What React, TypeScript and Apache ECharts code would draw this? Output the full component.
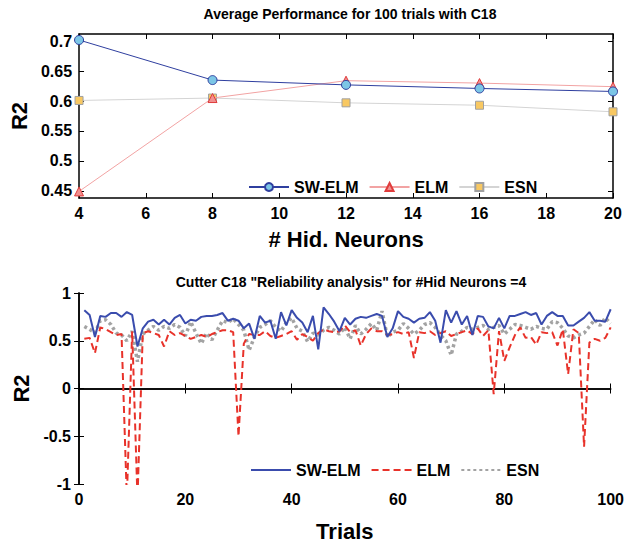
import React, { useEffect, useRef } from "react";
import * as echarts from "echarts";

// ---- Top chart data ----
const hidNeurons = [4, 8, 12, 16, 20];
const avgSwElm = [0.702, 0.635, 0.627, 0.621, 0.616];
const avgElm = [0.449, 0.605, 0.634, 0.63, 0.624];
const avgEsn = [0.601, 0.605, 0.597, 0.593, 0.582];
const topYTicks = [0.45, 0.5, 0.55, 0.6, 0.65, 0.7];

// ---- Bottom chart data (trials 1..100) ----
const trials = [
  1, 2, 3, 4, 5, 6, 7, 8, 9, 10, 11, 12, 13, 14, 15, 16, 17, 18, 19, 20,
  21, 22, 23, 24, 25, 26, 27, 28, 29, 30, 31, 32, 33, 34, 35, 36, 37, 38, 39, 40,
  41, 42, 43, 44, 45, 46, 47, 48, 49, 50, 51, 52, 53, 54, 55, 56, 57, 58, 59, 60,
  61, 62, 63, 64, 65, 66, 67, 68, 69, 70, 71, 72, 73, 74, 75, 76, 77, 78, 79, 80,
  81, 82, 83, 84, 85, 86, 87, 88, 89, 90, 91, 92, 93, 94, 95, 96, 97, 98, 99, 100,
];
const relSwElm = [
  0.82, 0.77, 0.54, 0.76, 0.75, 0.79, 0.79, 0.75, 0.8, 0.77, 0.44, 0.63, 0.7, 0.72, 0.67, 0.72, 0.67, 0.74, 0.77, 0.68,
  0.72, 0.71, 0.75, 0.76, 0.76, 0.77, 0.79, 0.71, 0.73, 0.71, 0.63, 0.68, 0.52, 0.76, 0.69, 0.71, 0.52, 0.8, 0.66, 0.82,
  0.74, 0.69, 0.59, 0.76, 0.41, 0.85, 0.78, 0.7, 0.6, 0.74, 0.67, 0.73, 0.75, 0.74, 0.76, 0.78, 0.76, 0.54, 0.63, 0.81,
  0.75, 0.73, 0.69, 0.73, 0.74, 0.8, 0.71, 0.48, 0.82, 0.69, 0.81, 0.67, 0.76, 0.56, 0.76, 0.75, 0.65, 0.63, 0.74, 0.63,
  0.76, 0.76, 0.78, 0.8, 0.77, 0.79, 0.67, 0.76, 0.8, 0.76, 0.76, 0.66, 0.66, 0.7, 0.74, 0.8, 0.71, 0.71, 0.7, 0.83,
];
const relElm = [
  0.52, 0.53, 0.37, 0.64, 0.62, 0.59, 0.56, 0.57, -1.15, 0.6, -1.15, 0.58, 0.6, 0.58, 0.56, 0.44, 0.6, 0.56, 0.58, 0.55,
  0.52, 0.54, 0.56, 0.54, 0.57, 0.59, 0.61, 0.61, 0.59, -0.5, 0.47, 0.57, 0.56, 0.56, 0.6, 0.55, 0.53, 0.55, 0.57, 0.6,
  0.51, 0.57, 0.54, 0.5, 0.58, 0.62, 0.6, 0.59, 0.6, 0.66, 0.59, 0.61, 0.45, 0.57, 0.63, 0.6, 0.6, 0.56, 0.57, 0.59,
  0.57, 0.59, 0.32, 0.59, 0.58, 0.6, 0.56, 0.58, 0.6, 0.55, 0.57, 0.59, 0.61, 0.57, 0.63, 0.55, 0.61, -0.06, 0.6, 0.29,
  0.43, 0.56, 0.64, 0.53, 0.54, 0.46, 0.59, 0.58, 0.59, 0.45, 0.62, 0.15, 0.62, 0.58, -0.61, 0.48, 0.52, 0.5, 0.53, 0.64,
];
const relEsn = [
  0.65, 0.62, 0.58, 0.71, 0.72, 0.67, 0.58, 0.56, 0.5, 0.6, 0.28, 0.57, 0.61, 0.65, 0.61, 0.65, 0.63, 0.67, 0.64, 0.55,
  0.7, 0.58, 0.47, 0.58, 0.51, 0.61, 0.71, 0.69, 0.73, 0.67, 0.61, 0.4, 0.54, 0.64, 0.67, 0.71, 0.64, 0.6, 0.69, 0.74,
  0.63, 0.6, 0.49, 0.58, 0.56, 0.61, 0.64, 0.61, 0.57, 0.64, 0.52, 0.66, 0.57, 0.62, 0.68, 0.61, 0.81, 0.54, 0.59, 0.61,
  0.68, 0.63, 0.57, 0.61, 0.67, 0.69, 0.64, 0.56, 0.5, 0.35, 0.57, 0.6, 0.64, 0.62, 0.64, 0.66, 0.62, 0.64, 0.66, 0.57,
  0.62, 0.67, 0.66, 0.64, 0.62, 0.65, 0.63, 0.62, 0.7, 0.69, 0.63, 0.55, 0.53, 0.56, 0.58, 0.65, 0.72, 0.66, 0.74, 0.68,
];

const FONT = "'Liberation Sans', Arial, Helvetica, sans-serif";

export default function App() {
  const ref = useRef<HTMLDivElement>(null);

  useEffect(() => {
    if (!ref.current) return;
    const chart = echarts.init(ref.current, null, { renderer: "svg" });

    const axisLine = { show: true, lineStyle: { color: "#000", width: 1.5 } };
    const tickIn = { show: true, inside: true, length: 5, lineStyle: { color: "#000", width: 1 } };
    const lbl = { color: "#000", fontSize: 16, fontWeight: "bold" as const, fontFamily: FONT };
    const nameStyle = { color: "#000", fontSize: 22, fontWeight: "bold" as const, fontFamily: FONT };

    const pair = (xs: number[], ys: number[]) => xs.map((x, i) => [x, ys[i]]);

    const option: any = {
      animation: false,
      backgroundColor: "#fff",
      textStyle: { fontFamily: FONT },
      title: [
        {
          text: "Average Performance for 100 trials with C18",
          left: 345,
          top: 2,
          textAlign: "center",
          textStyle: { fontSize: 14, fontWeight: "bold", color: "#000", fontFamily: FONT },
        },
        {
          text: 'Cutter C18 "Reliability analysis" for #Hid Neurons =4',
          left: 346,
          top: 270,
          textAlign: "center",
          textStyle: { fontSize: 14, fontWeight: "bold", color: "#000", fontFamily: FONT },
        },
      ],
      legend: [
        {
          left: 243,
          top: 174,
          itemWidth: 40,
          itemHeight: 10,
          itemGap: 10,
          selectedMode: false,
          textStyle: { fontSize: 16, fontWeight: "bold", color: "#000", fontFamily: FONT },
          data: ["SW-ELM", "ELM", "ESN"].map((n) => ({ name: n })),
        },
        {
          left: 245,
          top: 457,
          itemWidth: 40,
          itemHeight: 10,
          itemGap: 10,
          selectedMode: false,
          itemStyle: { color: "transparent", borderColor: "transparent", borderWidth: 0, opacity: 0 },
          textStyle: { fontSize: 16, fontWeight: "bold", color: "#000", fontFamily: FONT },
          data: ["SW-ELM ", "ELM ", "ESN "].map((n) => ({ name: n })),
          formatter: (n: string) => n.trim(),
        },
      ],
      grid: [
        { left: 78, top: 34, width: 535, height: 164 },
        { left: 79, top: 293, width: 534, height: 191 },
      ],
      xAxis: [
        {
          type: "value",
          gridIndex: 0,
          min: 4,
          max: 20,
          interval: 2,
          axisLine,
          axisTick: tickIn,
          axisLabel: { ...lbl, margin: 7 },
          splitLine: { show: false },
          name: "# Hid. Neurons",
          nameLocation: "middle",
          nameGap: 30,
          nameTextStyle: nameStyle,
        },
        {
          type: "value",
          gridIndex: 0,
          position: "top",
          min: 4,
          max: 20,
          interval: 2,
          axisLine,
          axisTick: tickIn,
          axisLabel: { show: false },
          splitLine: { show: false },
        },
        {
          type: "value",
          gridIndex: 1,
          min: 0,
          max: 100,
          interval: 20,
          axisLine,
          axisTick: tickIn,
          axisLabel: { ...lbl, margin: 7 },
          splitLine: { show: false },
          name: "Trials",
          nameLocation: "middle",
          nameGap: 36,
          nameTextStyle: nameStyle,
        },
        {
          type: "value",
          gridIndex: 1,
          position: "top",
          min: 0,
          max: 100,
          interval: 20,
          axisLine,
          axisTick: tickIn,
          axisLabel: { show: false },
          splitLine: { show: false },
        },
      ],
      yAxis: [
        {
          type: "value",
          gridIndex: 0,
          min: 0.438,
          max: 0.712,
          axisLine,
          axisTick: { ...tickIn, customValues: topYTicks },
          axisLabel: {
            ...lbl,
            margin: 7,
            customValues: topYTicks,
            formatter: (v: number) => String(Math.round(v * 100) / 100),
          },
          splitLine: { show: false },
          name: "R2",
          nameLocation: "middle",
          nameGap: 44,
          nameTextStyle: nameStyle,
        },
        {
          type: "value",
          gridIndex: 0,
          position: "right",
          min: 0.438,
          max: 0.712,
          axisLine,
          axisTick: { ...tickIn, customValues: topYTicks },
          axisLabel: { show: false },
          splitLine: { show: false },
        },
        {
          type: "value",
          gridIndex: 1,
          min: -1,
          max: 1,
          interval: 0.5,
          axisLine,
          axisTick: tickIn,
          axisLabel: { ...lbl, margin: 8 },
          splitLine: { show: false },
          name: "R2",
          nameLocation: "middle",
          nameGap: 45,
          nameTextStyle: nameStyle,
        },
        {
          type: "value",
          gridIndex: 1,
          position: "right",
          min: -1,
          max: 1,
          interval: 0.5,
          axisLine,
          axisTick: tickIn,
          axisLabel: { show: false },
          splitLine: { show: false },
        },
      ],
      series: [
        {
          name: "SW-ELM",
          type: "line",
          xAxisIndex: 0,
          yAxisIndex: 0,
          data: pair(hidNeurons, avgSwElm),
          symbol: "circle",
          symbolSize: 9,
          lineStyle: { color: "#2f3f9f", width: 1 },
          itemStyle: { color: "#7cc6e6", borderColor: "#2f3f9f", borderWidth: 1 },
          z: 4,
        },
        {
          name: "ELM",
          type: "line",
          xAxisIndex: 0,
          yAxisIndex: 0,
          data: pair(hidNeurons, avgElm),
          symbol: "triangle",
          symbolSize: 9,
          lineStyle: { color: "#f2a3a3", width: 1 },
          itemStyle: { color: "#f09090", borderColor: "#e03c3c", borderWidth: 1 },
          z: 3,
        },
        {
          name: "ESN",
          type: "line",
          xAxisIndex: 0,
          yAxisIndex: 0,
          data: pair(hidNeurons, avgEsn),
          symbol: "rect",
          symbolSize: 8,
          lineStyle: { color: "#d4d4d4", width: 1 },
          itemStyle: { color: "#f8c862", borderColor: "#a0a0a0", borderWidth: 1 },
          z: 2,
        },
        {
          name: "SW-ELM ",
          type: "line",
          xAxisIndex: 2,
          yAxisIndex: 2,
          data: pair(trials, relSwElm),
          showSymbol: false,
          symbol: "none",
          lineStyle: { color: "#3a4cad", width: 2 },
          itemStyle: { color: "#3a4cad" },
          z: 4,
        },
        {
          name: "ELM ",
          type: "line",
          xAxisIndex: 2,
          yAxisIndex: 2,
          data: pair(trials, relElm),
          showSymbol: false,
          symbol: "none",
          lineStyle: { color: "#e8322a", width: 2, type: [7, 4] },
          itemStyle: { color: "#e8322a" },
          z: 3,
        },
        {
          name: "ESN ",
          type: "line",
          xAxisIndex: 2,
          yAxisIndex: 2,
          data: pair(trials, relEsn),
          showSymbol: false,
          symbol: "none",
          lineStyle: { color: "#a3a3a3", width: 3.5, type: [3, 3] },
          itemStyle: { color: "#a3a3a3" },
          z: 2,
        },
      ],
    };

    chart.setOption(option);
    return () => chart.dispose();
  }, []);

  return (
    <div
      ref={ref}
      style={{ position: "fixed", left: 0, top: 0, width: 627, height: 543, background: "#fff" }}
    />
  );
}
